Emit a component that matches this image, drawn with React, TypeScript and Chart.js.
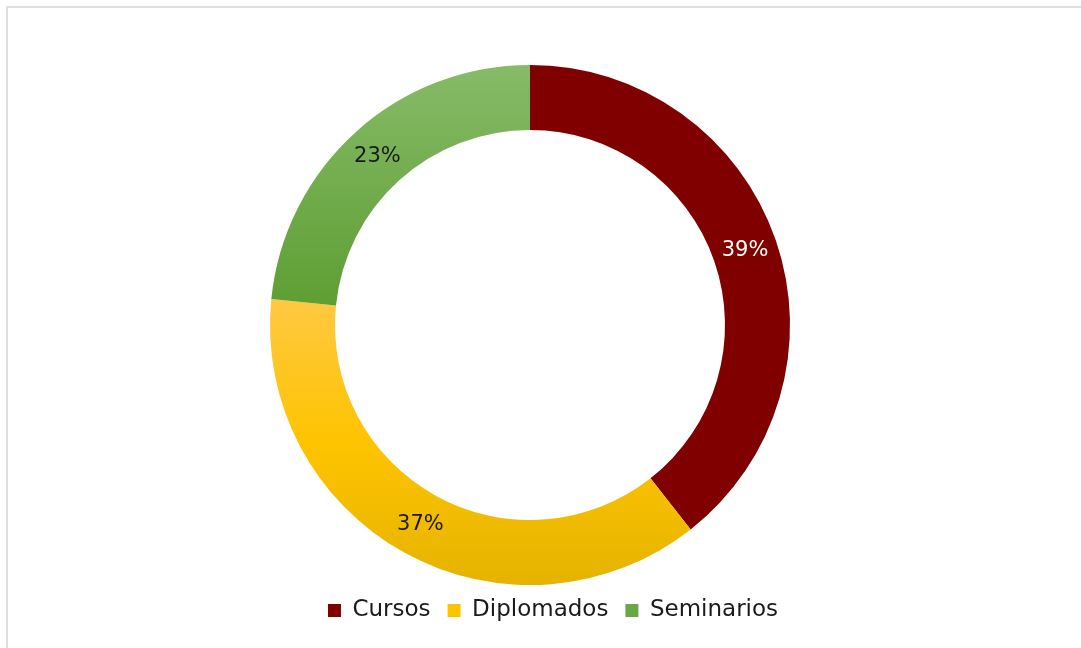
import React, { useEffect, useRef } from "react";
import { Chart, registerables } from "chart.js";

Chart.register(...registerables);

const categories = ["Cursos", "Diplomados", "Seminarios"];
const values = [39.4, 37.2, 23.4];
const labelColors = ["#ffffff", "#1a1a1a", "#1a1a1a"];
const legendColors = ["#800000", "#fec400", "#6aa843"];

const FONT = "'DejaVu Sans', sans-serif";

const labelPlugin = {
  id: "sliceLabels",
  afterDatasetsDraw(chart: any) {
    const ctx = chart.ctx;
    const meta = chart.getDatasetMeta(0);
    const total = values.reduce((a, b) => a + b, 0);
    ctx.save();
    ctx.font = `21px ${FONT}`;
    ctx.textAlign = "center";
    ctx.textBaseline = "middle";
    meta.data.forEach((el: any, i: number) => {
      const p = el.tooltipPosition();
      ctx.fillStyle = labelColors[i];
      ctx.fillText(Math.round((values[i] / total) * 100) + "%", p.x, p.y);
    });
    ctx.restore();
  },
};

const legendShift = {
  id: "legendShift",
  afterLayout(chart: any) {
    const lg = chart.legend;
    if (lg) {
      lg.left += 23;
      lg.right += 23;
      lg.top -= 3;
      lg.bottom -= 3;
    }
  },
};

function makeGradient(chart: any, i: number) {
  const { ctx, chartArea } = chart;
  if (!chartArea) return "#800000";
  const top = chartArea.top;
  const h = chartArea.bottom - chartArea.top;
  if (i === 0) return "#800000";
  if (i === 1) {
    const g = ctx.createLinearGradient(0, top + h * 0.45, 0, chartArea.bottom);
    g.addColorStop(0, "#ffc843");
    g.addColorStop(0.5, "#fec400");
    g.addColorStop(1, "#e5b300");
    return g;
  }
  const g = ctx.createLinearGradient(0, top, 0, top + h * 0.47);
  g.addColorStop(0, "#87bb68");
  g.addColorStop(1, "#5d9e32");
  return g;
}

export default function App() {
  const ref = useRef<HTMLCanvasElement>(null);
  useEffect(() => {
    if (!ref.current) return;
    const chart = new Chart(ref.current, {
      type: "doughnut",
      data: {
        labels: categories,
        datasets: [
          {
            data: values,
            backgroundColor: (c: any) => makeGradient(c.chart, c.dataIndex),
            borderWidth: 0,
            radius: 260,
            cutout: "75%",
          } as any,
        ],
      },
      options: {
        animation: false,
        responsive: false,
        layout: { padding: { top: 65, bottom: 13, left: 0, right: 21 } },
        plugins: {
          tooltip: { enabled: false },
          legend: {
            position: "bottom",
            labels: {
              color: "#1a1a1a",
              font: { size: 23, family: FONT },
              boxWidth: 13,
              boxHeight: 13,
              padding: 17,
              generateLabels: () =>
                categories.map((c, i) => ({
                  text: c,
                  fillStyle: legendColors[i],
                  strokeStyle: "transparent",
                  lineWidth: 0,
                  hidden: false,
                  index: i,
                  fontColor: "#1a1a1a",
                })),
            },
          },
        },
      },
      plugins: [labelPlugin, legendShift],
    });
    return () => chart.destroy();
  }, []);
  return (
    <div style={{ position: "fixed", left: 0, top: 0, width: 1081, height: 648, background: "#fff", overflow: "hidden" }}>
      <div
        style={{
          position: "absolute",
          left: 6,
          top: 6,
          width: 1200,
          height: 800,
          border: "2px solid #dde1e6",
        }}
      />
      <canvas ref={ref} width={1081} height={648} style={{ position: "absolute", left: 0, top: 0 }} />
    </div>
  );
}
